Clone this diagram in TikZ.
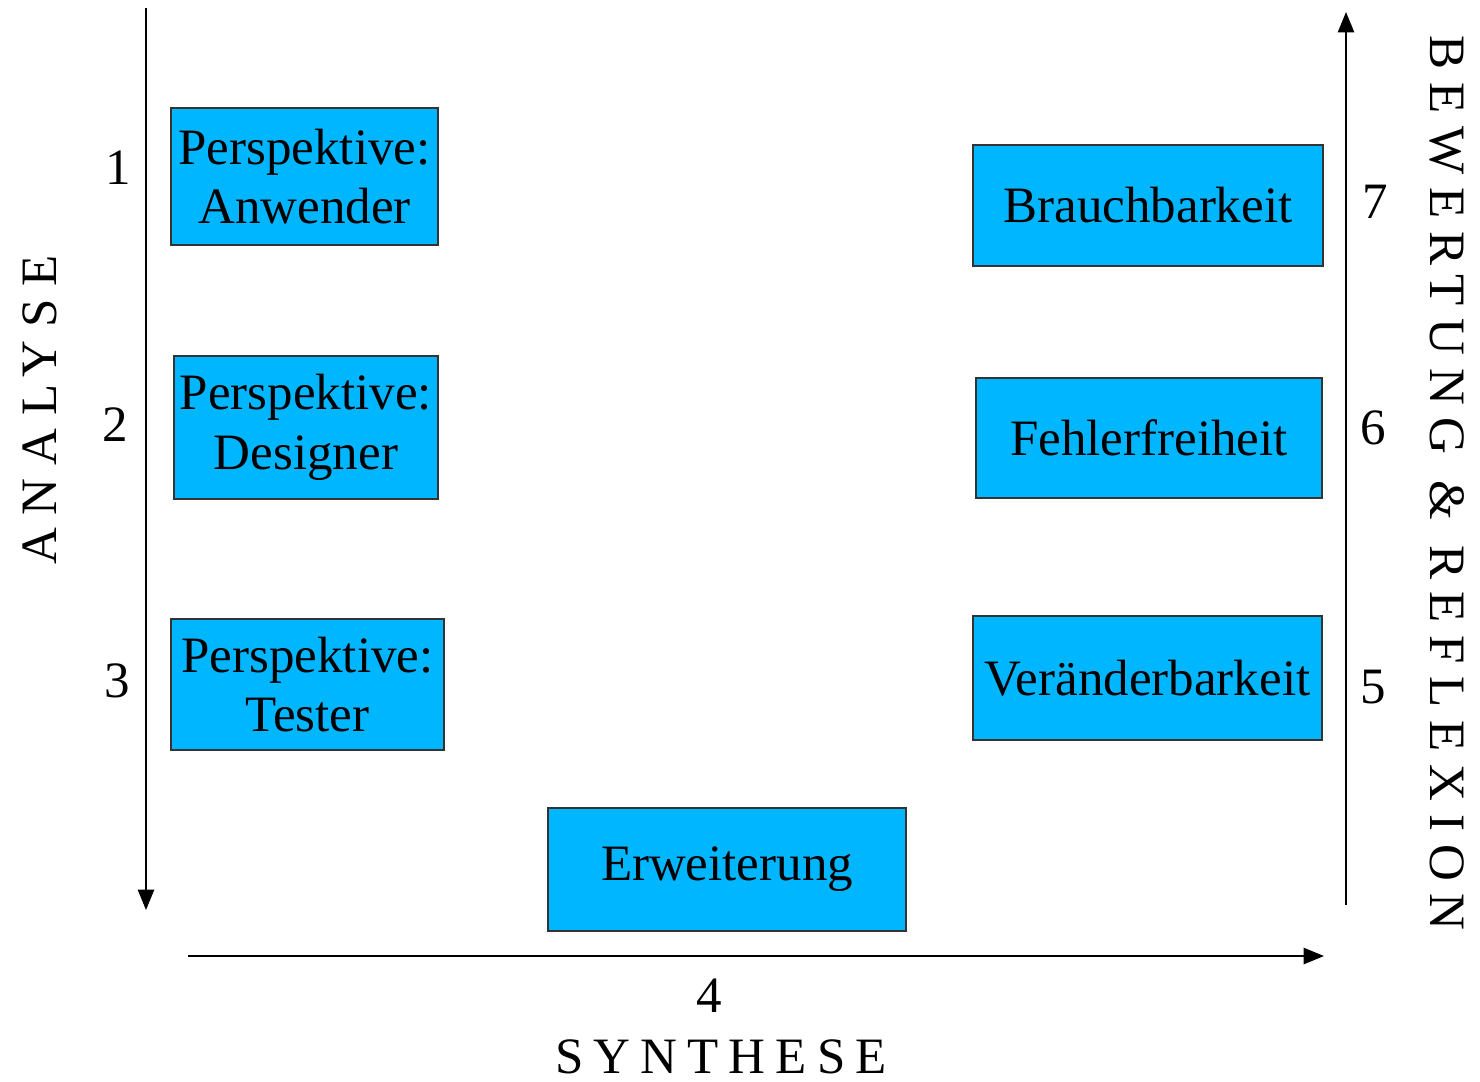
\documentclass[tikz,border=0pt]{standalone}
\usepackage{fontspec}
\setmainfont{Liberation Serif}
\newfontfamily\spacedfont[LetterSpace=20]{Liberation Serif}
\newfontfamily\widefont[LetterSpace=25]{Liberation Serif}
\usetikzlibrary{arrows.meta}
\definecolor{boxblue}{RGB}{0,182,255}

\begin{document}
\begin{tikzpicture}[x=0.01cm,y=-0.01cm,
    font=\fontsize{14.5}{17}\selectfont,
    stage/.style={draw=black!80, line width=0.6pt, fill=boxblue, inner sep=0pt, align=center},
    axis/.style={line width=0.6pt, -{Triangle[length=5.8pt,width=4.6pt]}},
    axislabel/.style={inner sep=0pt, font=\fontsize{14.5}{17}\selectfont\widefont}]
            \useasboundingbox (0,0) rectangle (1480,1081);

            % Draw boxes, analyse side
            \node[stage, minimum width=2.67cm, minimum height=1.37cm] (anwender) at (304.5,176.5) {Perspektive:\\Anwender};
            \node[stage, minimum width=2.64cm, minimum height=1.43cm] (designer) at (306,427.5) {Perspektive:\\Designer};
            \node[stage, minimum width=2.73cm, minimum height=1.31cm] (tester) at (307.5,684.5) {Perspektive:\\Tester};

            % Draw synthese box
            \node[stage, minimum width=3.58cm, minimum height=1.23cm] (erweiterung) at (727,869.5) {Erweiterung};

            % Draw boxes, bewertung side
            \node[stage, minimum width=3.50cm, minimum height=1.21cm] (brauchbar) at (1148,205.5) {Brauchbarkeit};
            \node[stage, minimum width=3.46cm, minimum height=1.20cm] (fehlerfrei) at (1149,438) {Fehlerfreiheit};
            \node[stage, minimum width=3.49cm, minimum height=1.24cm] (veraenderbar) at (1147.5,678) {Veränderbarkeit};

            % Draw axes
            \coordinate (analysetop) at (146,8);
            \coordinate (analysebot) at (146,910);
            \coordinate (synthleft) at (188,956);
            \coordinate (synthright) at (1324,956);
            \coordinate (bewertbot) at (1346,905);
            \coordinate (bewerttop) at (1346,12);
            \draw[axis] (analysetop) -- (analysebot);
            \draw[axis] (synthleft) -- (synthright);
            \draw[axis] (bewertbot) -- (bewerttop);

            % Draw step numbers
            \node (n1) at (118,168) {1};
            \node (n2) at (115,425) {2};
            \node (n3) at (117,681) {3};
            \node (n4) at (709,996) {4};
            \node (n5) at (1373,687) {5};
            \node (n6) at (1373,428) {6};
            \node (n7) at (1375,202) {7};

            % Draw axis labels
            \node[axislabel, rotate=90] (analyse) at (40,410) {ANALYSE};
            \node[axislabel, anchor=base, font=\fontsize{14.5}{17}\selectfont\spacedfont] (synthese) at (721,1073) {SYNTHESE};
            \node[axislabel, rotate=-90] (bewertung) at (1447,483) {BEWERTUNG \& REFLEXION};
        \end{tikzpicture}
\end{document}
